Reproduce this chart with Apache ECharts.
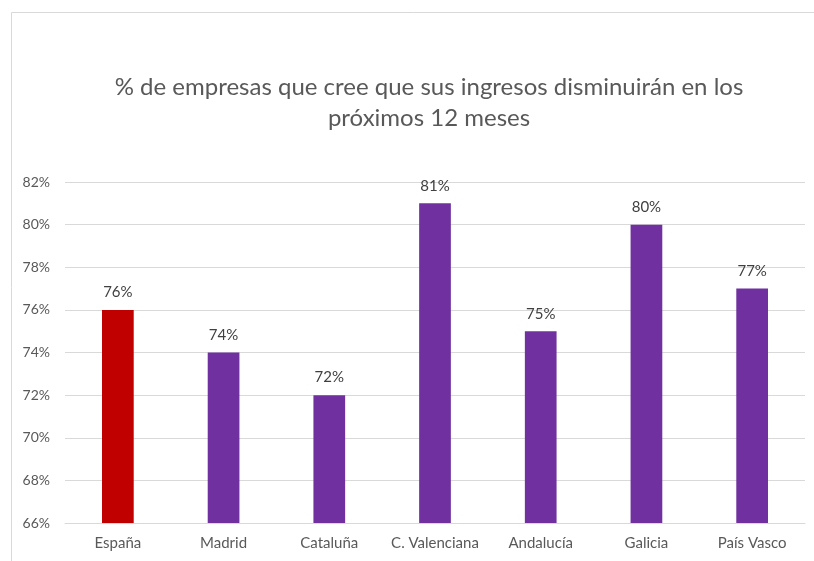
<!DOCTYPE html>
<html>
<head>
<meta charset="utf-8">
<script src="https://cdn.jsdelivr.net/npm/echarts@6/dist/echarts.min.js"></script>
<style>
  html, body { margin: 0; padding: 0; background: #fff; }
  #chart { width: 814px; height: 561px; }
</style>
</head>
<body>
<div id="chart"></div>
<script>
const categories = ['España', 'Madrid', 'Cataluña', 'C. Valenciana', 'Andalucía', 'Galicia', 'País Vasco']
const values = [76, 74, 72, 81, 75, 80, 77]
const barColors = ['#C00000', '#7030A0', '#7030A0', '#7030A0', '#7030A0', '#7030A0', '#7030A0']
const yMin = 66
const yMax = 82
const yStep = 2

const chart = echarts.init(document.getElementById('chart'))
const font = 'Lato, "Open Sans", sans-serif'

chart.setOption({
  animation: false,
  textStyle: { fontFamily: font },
  title: {
    text: '% de empresas que cree que sus ingresos disminuirán en los\npróximos 12 meses',
    left: 429,
    textAlign: 'center',
    top: 72,
    padding: 0,
    textStyle: {
      fontFamily: font,
      fontWeight: 'normal',
      fontSize: 24,
      lineHeight: 31,
      color: '#595959'
    }
  },
  graphic: [{
    type: 'rect',
    shape: { x: 11.5, y: 12.5, width: 900, height: 700 },
    style: { fill: 'none', stroke: '#d9d9d9', lineWidth: 1 },
    silent: true
  }],
  grid: {
    left: 65,
    right: 9,
    top: 182,
    bottom: 38
  },
  xAxis: {
    type: 'category',
    data: categories,
    axisTick: { show: false },
    axisLine: { lineStyle: { color: '#d9d9d9' } },
    axisLabel: { color: '#595959', fontSize: 15, margin: 13, interval: 0, fontFamily: font }
  },
  yAxis: {
    type: 'value',
    min: yMin,
    max: yMax,
    interval: yStep,
    axisLine: { show: false },
    axisTick: { show: false },
    splitLine: { lineStyle: { color: '#d9d9d9' } },
    axisLabel: { color: '#595959', fontSize: 14, margin: 15, formatter: '{value}%', fontFamily: font }
  },
  series: [{
    type: 'bar',
    barWidth: '30%',
    data: values.map((v, i) => ({ value: v, itemStyle: { color: barColors[i] } })),
    label: {
      show: true,
      position: 'top',
      distance: 10,
      formatter: '{c}%',
      color: '#404040',
      fontSize: 15,
      fontFamily: font
    }
  }]
})
</script>
</body>
</html>
